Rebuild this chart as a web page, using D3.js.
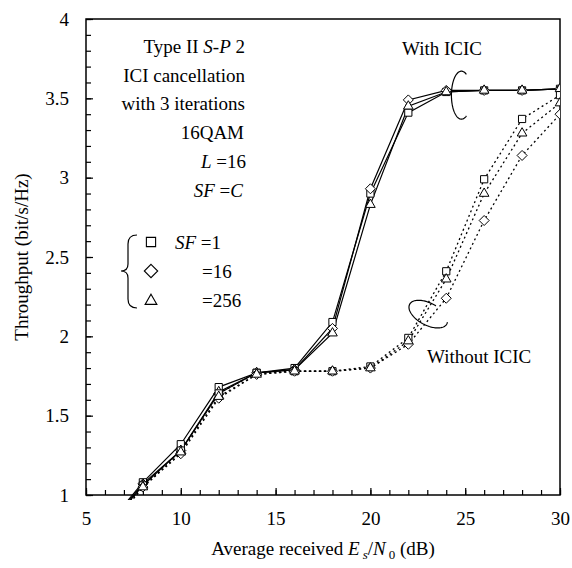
<!DOCTYPE html>
<html>
<head>
<meta charset="utf-8">
<script src="https://cdn.jsdelivr.net/npm/d3@7"></script>
<style>
  body { margin: 0; background: #fff; }
  text { font-family: "Liberation Serif", "Times New Roman", serif; fill: #000; }
</style>
</head>
<body>
<svg id="chart" width="572" height="568"></svg>
<script>
const margin = { top: 19, right: 12, bottom: 73, left: 86 };
const width = 572 - margin.left - margin.right;
const height = 568 - margin.top - margin.bottom;

// Es/N0 (dB)
const snr = [6, 8, 10, 12, 14, 16, 18, 20, 22, 24, 26, 28, 30];

// with ICIC (solid)
const withSF1   = [0.79, 1.08, 1.32, 1.68, 1.77, 1.80, 2.09, 2.90, 3.41, 3.54, 3.55, 3.55, 3.56];
const withSF16  = [0.78, 1.07, 1.28, 1.64, 1.77, 1.79, 2.05, 2.93, 3.49, 3.55, 3.55, 3.55, 3.56];
const withSF256 = [0.78, 1.06, 1.28, 1.65, 1.77, 1.79, 2.02, 2.83, 3.45, 3.54, 3.55, 3.55, 3.56];

// without ICIC (dashed)
const woSF1   = [0.77, 1.06, 1.28, 1.64, 1.77, 1.78, 1.78, 1.81, 1.99, 2.41, 2.99, 3.37, 3.52];
const woSF16  = [0.76, 1.05, 1.26, 1.61, 1.76, 1.78, 1.78, 1.80, 1.95, 2.24, 2.73, 3.14, 3.40];
const woSF256 = [0.76, 1.05, 1.27, 1.62, 1.76, 1.78, 1.78, 1.80, 1.97, 2.36, 2.90, 3.28, 3.47];

const xTicks = [5, 10, 15, 20, 25, 30];
const yTicks = [1, 1.5, 2, 2.5, 3, 3.5, 4];

// rotated-square diamond (d3's own is stretched)
const symbolRhomb = {
  draw(ctx, size) {
    const r = Math.sqrt(size / 2);
    ctx.moveTo(0, -r); ctx.lineTo(r, 0); ctx.lineTo(0, r); ctx.lineTo(-r, 0); ctx.closePath();
  }
};

const series = [
  { vals: withSF1, sym: d3.symbolSquare, dash: null },
  { vals: withSF16, sym: symbolRhomb, dash: null },
  { vals: withSF256, sym: d3.symbolTriangle, dash: null },
  { vals: woSF1, sym: d3.symbolSquare, dash: "2,3" },
  { vals: woSF16, sym: symbolRhomb, dash: "2,3" },
  { vals: woSF256, sym: d3.symbolTriangle, dash: "2,3" }
];
const symSize = new Map([[d3.symbolSquare, 52], [symbolRhomb, 50], [d3.symbolTriangle, 40]]);

const svg = d3.select("#chart");
const g = svg.append("g").attr("transform", `translate(${margin.left},${margin.top})`);

const x = d3.scaleLinear().domain([5, 30]).range([0, width]);
const y = d3.scaleLinear().domain([1, 4]).range([height, 0]);

svg.append("defs").append("clipPath").attr("id", "clip")
  .append("rect").attr("x", 0).attr("y", 0).attr("width", width).attr("height", height + 5);

// minor ticks
g.append("g").attr("transform", `translate(0,${height})`)
  .call(d3.axisBottom(x).ticks(25).tickSize(-5).tickFormat(""))
  .call(a => a.select(".domain").remove());
g.append("g")
  .call(d3.axisLeft(y).ticks(30).tickSize(-5).tickFormat(""))
  .call(a => a.select(".domain").remove());

// major ticks + labels
const xa = g.append("g").attr("transform", `translate(0,${height})`)
  .call(d3.axisBottom(x).tickValues(xTicks).tickSize(-7).tickPadding(17).tickFormat(d3.format("d")));
const ya = g.append("g")
  .call(d3.axisLeft(y).tickValues(yTicks).tickSize(-7).tickPadding(17).tickFormat(d => d));
[xa, ya].forEach(a => {
  a.select(".domain").remove();
  a.selectAll("text").style("font-size", "19px").attr("font-family", null);
});
g.selectAll(".tick line").attr("stroke", "#000").attr("stroke-width", 1.2);

// frame
g.append("rect").attr("width", width).attr("height", height)
  .attr("fill", "none").attr("stroke", "#000").attr("stroke-width", 1.5);

const line = d3.line().x((d, i) => x(snr[i])).y(d => y(d));
const plot = g.append("g").attr("clip-path", "url(#clip)");

series.forEach(s => {
  plot.append("path").datum(s.vals)
    .attr("fill", "none").attr("stroke", "#000")
    .attr("stroke-width", s.dash ? 1.3 : 1.2)
    .attr("stroke-dasharray", s.dash)
    .attr("d", line);
});
series.forEach(s => {
  plot.selectAll(null).data(s.vals.map((v, i) => [snr[i], v]).filter(d => d[1] >= 1))
    .join("path")
    .attr("transform", d => `translate(${x(d[0])},${y(d[1])})`)
    .attr("d", d3.symbol().type(s.sym).size(symSize.get(s.sym)))
    .attr("fill", "#fff").attr("stroke", "#000").attr("stroke-width", 1);
});

// ellipse markers (partial arcs)
function arcPath(cx, cy, rx, ry, rot, a0, a1) {
  const pts = d3.range(a0, a1 + 0.5, 3).map(a => {
    const t = a * Math.PI / 180, r = rot * Math.PI / 180;
    const ex = rx * Math.cos(t), ey = ry * Math.sin(t);
    return [cx + ex * Math.cos(r) - ey * Math.sin(r), cy + ex * Math.sin(r) + ey * Math.cos(r)];
  });
  return d3.line()(pts);
}
g.append("path").attr("d", arcPath(x(24.8), y(3.52), 10, 24, 0, 60, 300))
  .attr("fill", "none").attr("stroke", "#000").attr("stroke-width", 1.2);
g.append("path").attr("d", arcPath(x(23.05), y(2.14), 21, 11, 28, -10, 280))
  .attr("fill", "none").attr("stroke", "#000").attr("stroke-width", 1.2);

// annotations
const fs = "19px";
const ann = svg.append("g").style("font-size", fs);
function label(xp, yp, parts, anchor) {
  const t = ann.append("text").attr("x", xp).attr("y", yp).attr("text-anchor", anchor || "end");
  parts.forEach(p => {
    const sp = t.append("tspan").text(p[0]);
    if (p[1]) sp.attr("font-style", "italic");
  });
  return t;
}
label(245, 53, [["Type II "], ["S-P", 1], [" 2"]]);
label(245, 82, [["ICI cancellation"]]);
label(245, 110, [["with 3 iterations"]]);
label(244, 139, [["16QAM"]]);
label(246, 168, [["L", 1], [" =16"]]);
label(243, 197, [["SF", 1], [" =", 0], ["C", 1]]);

label(175, 249, [["SF", 1], [" =1"]], "start");
label(202, 278, [["=16"]], "start");
label(202, 307, [["=256"]], "start");

const legSyms = [d3.symbolSquare, symbolRhomb, d3.symbolTriangle];
const legSize = [85, 90, 60];
const legY = [242, 271, 301];
legSyms.forEach((s, i) => {
  svg.append("path").attr("transform", `translate(151,${legY[i]})`)
    .attr("d", d3.symbol().type(s).size(legSize[i]))
    .attr("fill", "#fff").attr("stroke", "#000").attr("stroke-width", 1.1);
});
svg.append("path")
  .attr("d", "M137,235 Q128,235 128,244 L128,264 Q128,271 121,271 Q128,271 128,278 L128,299 Q128,308 137,308")
  .attr("fill", "none").attr("stroke", "#000").attr("stroke-width", 1.2);

label(402, 55, [["With ICIC"]], "start");
label(427, 363, [["Without ICIC"]], "start");

// axis titles
const xt = svg.append("text").attr("x", margin.left + width / 2).attr("y", 555)
  .attr("text-anchor", "middle").style("font-size", fs);
xt.append("tspan").text("Average received ");
xt.append("tspan").attr("font-style", "italic").text("E");
xt.append("tspan").attr("font-style", "italic").attr("dx", 3).attr("dy", 4).style("font-size", "13px").text("s");
xt.append("tspan").attr("dy", -4).text("/");
xt.append("tspan").attr("font-style", "italic").text("N");
xt.append("tspan").attr("dx", 3).attr("dy", 4).style("font-size", "13px").text("0");
xt.append("tspan").attr("dy", -4).text(" (dB)");

svg.append("text")
  .attr("transform", `translate(28,${margin.top + height / 2}) rotate(-90)`)
  .attr("text-anchor", "middle").style("font-size", fs)
  .text("Throughput (bit/s/Hz)");
</script>
</body>
</html>
